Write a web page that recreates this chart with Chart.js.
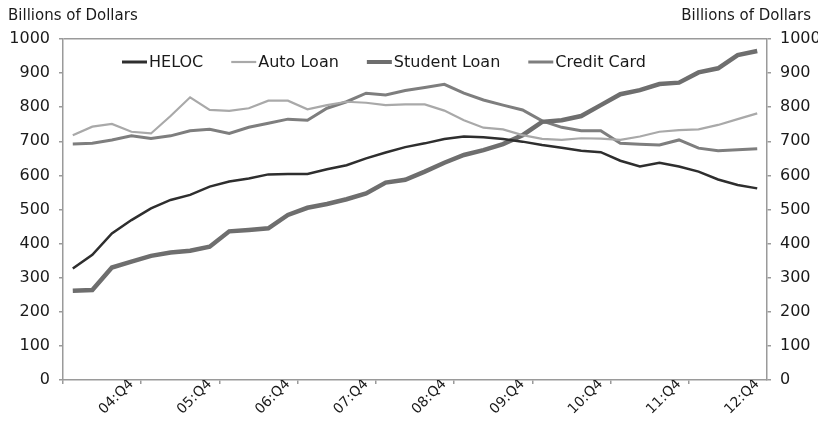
<!DOCTYPE html>
<html>
<head>
<meta charset="utf-8">
<script src="https://cdn.jsdelivr.net/npm/chart.js@4/dist/chart.umd.min.js"></script>
<style>
  html, body { margin: 0; padding: 0; background: #fff; }
  #wrap { width: 818px; height: 424px; position: relative; }
</style>
</head>
<body>
<div id="wrap"><canvas id="c" width="818" height="424"></canvas></div>
<script>
const categories = [
  "04:Q1","04:Q2","04:Q3","04:Q4",
  "05:Q1","05:Q2","05:Q3","05:Q4",
  "06:Q1","06:Q2","06:Q3","06:Q4",
  "07:Q1","07:Q2","07:Q3","07:Q4",
  "08:Q1","08:Q2","08:Q3","08:Q4",
  "09:Q1","09:Q2","09:Q3","09:Q4",
  "10:Q1","10:Q2","10:Q3","10:Q4",
  "11:Q1","11:Q2","11:Q3","11:Q4",
  "12:Q1","12:Q2","12:Q3","12:Q4"
];
const heloc = [327, 367, 430, 469, 503, 528, 543, 567, 582, 591, 603, 604, 604, 618, 630, 650, 667, 683, 694, 707, 714, 712, 707, 699, 689, 681, 672, 668, 643, 626, 637, 626, 611, 588, 572, 562];
const autoLoan = [718, 743, 751, 728, 723, 774, 829, 792, 789, 797, 819, 819, 794, 806, 816, 813, 806, 808, 808, 790, 762, 740, 735, 718, 707, 704, 709, 708, 704, 714, 728, 733, 735, 748, 765, 782];
const studentLoan = [262, 264, 330, 347, 364, 374, 379, 391, 436, 440, 445, 484, 505, 516, 530, 547, 579, 587, 611, 637, 660, 674, 692, 718, 757, 762, 774, 806, 838, 850, 868, 872, 902, 914, 953, 965];
const creditCard = [692, 694, 704, 716, 708, 716, 731, 735, 723, 741, 753, 765, 762, 797, 816, 841, 836, 849, 858, 867, 841, 821, 806, 792, 760, 741, 731, 731, 694, 691, 689, 704, 680, 672, 675, 678];
const seriesNames = ["HELOC", "Auto Loan", "Student Loan", "Credit Card"];
const yTicks = [0, 100, 200, 300, 400, 500, 600, 700, 800, 900, 1000];
const axisTitle = "Billions of Dollars";

const FONT = '"DejaVu Sans", "Liberation Sans", Arial, sans-serif';
const AXIS = '#9a9a9a';
const TEXT = '#1a1a1a';

const overlay = {
  id: 'overlay',
  afterDraw(chart) {
    const ctx = chart.ctx;
    ctx.save();
    ctx.fillStyle = TEXT;
    ctx.textBaseline = 'middle';
    ctx.font = '15px ' + FONT;
    ctx.textAlign = 'left';
    ctx.fillText(axisTitle, 8, 16);
    ctx.textAlign = 'right';
    ctx.fillText(axisTitle, 811, 16);
    // legend inside plot area
    ctx.font = '16px ' + FONT;
    ctx.textAlign = 'left';
    let x = 122;
    const y = 62;
    chart.data.datasets.forEach(ds => {
      ctx.strokeStyle = ds.borderColor;
      ctx.lineWidth = ds.legendLineWidth;
      ctx.lineCap = 'butt';
      ctx.beginPath();
      ctx.moveTo(x, y);
      ctx.lineTo(x + 25, y);
      ctx.stroke();
      ctx.fillStyle = TEXT;
      ctx.fillText(ds.label, x + 27, y + 1);
      x += 27 + ctx.measureText(ds.label).width + 28;
    });
    ctx.restore();
  }
};

const yAxisCommon = {
  type: 'linear',
  min: 0,
  max: 1000,
  afterBuildTicks(scale) { scale.ticks = yTicks.map(v => ({ value: v })); },
  border: { display: true, color: AXIS, width: 1.5 },
  ticks: { font: { family: FONT, size: 16 }, color: TEXT, padding: 9, callback: (v) => String(v) },
};

new Chart(document.getElementById('c'), {
  type: 'line',
  data: {
    labels: categories,
    datasets: [
      { label: seriesNames[0], data: heloc, borderColor: '#2e2e2e', borderWidth: 2.5, legendLineWidth: 3 },
      { label: seriesNames[1], data: autoLoan, borderColor: '#a9a9a9', borderWidth: 2.2, legendLineWidth: 2.2 },
      { label: seriesNames[2], data: studentLoan, borderColor: '#6e6e6e', borderWidth: 4.5, legendLineWidth: 4 },
      { label: seriesNames[3], data: creditCard, borderColor: '#7e7e7e', borderWidth: 3, legendLineWidth: 3 }
    ].map(d => Object.assign(d, { pointRadius: 0, pointHoverRadius: 0, tension: 0, fill: false, yAxisID: 'y' }))
  },
  options: {
    responsive: false,
    animation: false,
    devicePixelRatio: 1,
    layout: { padding: { top: 39, left: 0, right: 0, bottom: 0 } },
    plugins: { legend: { display: false }, tooltip: { enabled: false }, title: { display: false } },
    scales: {
      x: {
        type: 'category',
        offset: true,
        afterFit(scale) { scale.height = 44; },
        border: { display: true, color: AXIS, width: 1.5 },
        grid: {
          offset: true,
          drawOnChartArea: false,
          drawTicks: true,
          tickLength: 4,
          lineWidth: 1.5,
          color: (ctx) => (ctx.index % 4 === 0) ? AXIS : 'rgba(0,0,0,0)'
        },
        ticks: {
          autoSkip: false,
          maxRotation: 45,
          minRotation: 45,
          padding: -8,
          font: { family: FONT, size: 14 },
          color: TEXT,
          callback: function(val, i) { return categories[i].endsWith('Q4') ? categories[i] : ''; }
        }
      },
      y: Object.assign({}, yAxisCommon, {
        position: 'left',
        afterFit(scale) { scale.width = 63; },
        grid: {
          drawOnChartArea: true,
          drawTicks: true,
          tickLength: 4,
          lineWidth: 1.5,
          color: (ctx) => (ctx.tick && ctx.tick.value === 1000) ? AXIS : 'rgba(0,0,0,0)',
          tickColor: AXIS
        }
      }),
      y2: Object.assign({}, yAxisCommon, {
        position: 'right',
        afterFit(scale) { scale.width = 51; },
        grid: {
          drawOnChartArea: false,
          drawTicks: true,
          tickLength: 4,
          lineWidth: 1.5,
          color: AXIS,
          tickColor: AXIS
        }
      })
    }
  },
  plugins: [overlay]
});
</script>
</body>
</html>
